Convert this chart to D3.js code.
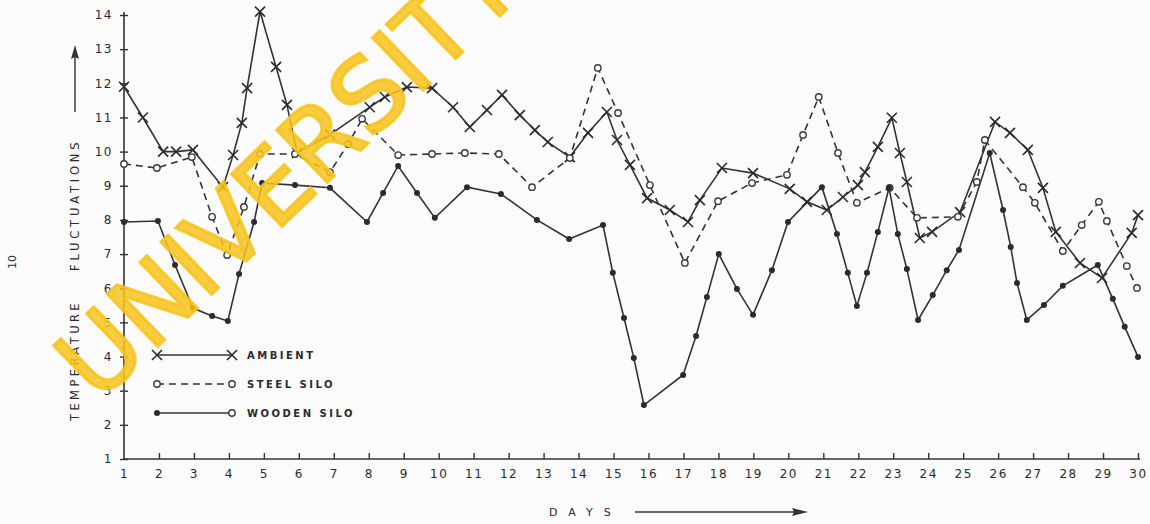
<!DOCTYPE html>
<html>
<head>
<meta charset="utf-8">
<script src="https://cdn.jsdelivr.net/npm/d3@7"></script>
<style>
  body { margin: 0; background: #fbfbfb; }
  svg text { font-family: "DejaVu Sans", sans-serif; fill: #2b2b2b; }
</style>
</head>
<body>
<div id="chart_temperatura"></div>
<script>
// dias (com pontos a cada meio dia mais ou menos) e temperaturas
const ambientDays = [1, 1.54, 2.12, 2.49, 2.97, 3.83, 4.12, 4.37, 4.52, 4.89, 5.35, 5.66, 5.95, 6.89, 8.03, 8.46, 9.09, 9.81, 10.41, 10.89, 11.38, 11.81, 12.32, 12.75, 13.12, 13.75, 14.27, 14.81, 15.1, 15.47, 15.96, 16.61, 17.13, 17.47, 18.1, 18.99, 20.04, 20.53, 21.1, 21.56, 21.99, 22.19, 22.56, 22.96, 23.19, 23.39, 23.76, 24.11, 24.91, 25.91, 26.34, 26.85, 27.28, 27.65, 28.34, 28.97, 29.82, 30];
const ambientTemp = [11.9, 11.0, 10.0, 10.0, 10.05, 8.96, 9.9, 10.84, 11.86, 14.1, 12.48, 11.37, 9.96, 10.5, 11.3, 11.6, 11.89, 11.86, 11.3, 10.72, 11.22, 11.66, 11.07, 10.63, 10.28, 9.84, 10.55, 11.16, 10.34, 9.61, 8.64, 8.29, 7.94, 8.58, 9.52, 9.37, 8.91, 8.53, 8.29, 8.67, 9.02, 9.4, 10.14, 10.99, 9.96, 9.11, 7.47, 7.65, 8.23, 10.87, 10.55, 10.05, 8.94, 7.65, 6.74, 6.3, 7.62, 8.14];

const steelDays = [1, 1.94, 2.94, 3.52, 3.95, 4.43, 4.89, 5.89, 6.89, 7.41, 7.81, 8.84, 9.81, 10.75, 11.72, 12.67, 13.75, 14.55, 15.13, 16.04, 17.04, 17.99, 18.96, 19.96, 20.42, 20.87, 21.42, 21.96, 22.9, 23.68, 24.85, 25.39, 25.62, 26.71, 27.05, 27.85, 28.39, 28.88, 29.11, 29.68, 29.97];
const steelTemp = [9.64, 9.52, 9.84, 8.09, 6.97, 8.38, 9.93, 9.93, 9.4, 10.22, 10.96, 9.9, 9.93, 9.96, 9.93, 8.96, 9.81, 12.45, 11.13, 9.02, 6.74, 8.55, 9.08, 9.32, 10.49, 11.6, 9.96, 8.5, 8.94, 8.06, 8.09, 9.11, 10.34, 8.96, 8.5, 7.09, 7.85, 8.53, 7.97, 6.65, 6.01];

const woodDays = [1, 1.97, 2.46, 2.97, 3.52, 3.97, 4.29, 4.72, 4.95, 5.89, 6.89, 7.95, 8.41, 8.84, 9.38, 9.89, 10.81, 11.78, 12.81, 13.73, 14.7, 14.98, 15.3, 15.58, 15.87, 16.99, 17.36, 17.67, 18.01, 18.53, 18.99, 19.53, 19.99, 20.96, 21.39, 21.7, 21.96, 22.25, 22.56, 22.88, 23.13, 23.39, 23.71, 24.13, 24.53, 24.88, 25.76, 26.14, 26.36, 26.54, 26.82, 27.31, 27.85, 28.85, 29.28, 29.62, 30];
const woodTemp = [7.94, 7.97, 6.68, 5.42, 5.19, 5.04, 6.42, 7.94, 9.08, 9.02, 8.94, 7.94, 8.79, 9.58, 8.79, 8.06, 8.96, 8.76, 8.0, 7.44, 7.85, 6.45, 5.13, 3.96, 2.58, 3.46, 4.6, 5.74, 7.0, 5.98, 5.22, 6.53, 7.94, 8.96, 7.59, 6.45, 5.48, 6.45, 7.65, 8.94, 7.59, 6.56, 5.07, 5.8, 6.53, 7.12, 9.96, 8.29, 7.21, 6.15, 5.07, 5.51, 6.07, 6.68, 5.69, 4.87, 3.99];

const xTicks = d3.range(1, 31);
const yTicks = d3.range(1, 15);

const seriesNames = ["AMBIENT", "STEEL SILO", "WOODEN SILO"];

let config = {
    div: '#chart_temperatura',
    width: 1150,
    height: 524,
    top: 15,
    left: 124,
    bottom: 65,
    right: 12
};

class LineChart {
    constructor() {
        this.config = config;
        this.svg = null;
        this.series = [];
        this.createSvg();
    }

    createSvg() {
        this.svg = d3.select(this.config.div)
            .append("svg")
            .attr("width", this.config.width)
            .attr("height", this.config.height);
    }

    setData() {
        let zip = (days, temps) => days.map((d, i) => ({day: d, temp: temps[i]}));
        this.series = [
            {name: seriesNames[0], marker: "cross", dash: null, values: zip(ambientDays, ambientTemp)},
            {name: seriesNames[1], marker: "ring", dash: "7,5", values: zip(steelDays, steelTemp)},
            {name: seriesNames[2], marker: "dot", dash: null, values: zip(woodDays, woodTemp)}
        ];
    }

    drawMarker(g, type, x, y) {
        if (type === "cross") {
            g.append("path")
                .attr("d", `M${x-5},${y-5}L${x+5},${y+5}M${x+5},${y-5}L${x-5},${y+5}`)
                .attr("stroke", "#2b2b2b").attr("stroke-width", 1.6);
        } else if (type === "ring") {
            g.append("circle").attr("cx", x).attr("cy", y).attr("r", 3.2)
                .attr("fill", "#fbfbfb").attr("stroke", "#3a3a3a").attr("stroke-width", 1.4);
        } else {
            g.append("circle").attr("cx", x).attr("cy", y).attr("r", 3)
                .attr("fill", "#2b2b2b");
        }
    }

    updateChart() {
        let c = this.config;
        let x = d3.scaleLinear().domain([1, 30]).range([c.left, 1138]);
        let y = d3.scaleLinear().domain([1, 14]).range([c.height - c.bottom, c.top]);

        // eixo x
        let xAxis = this.svg.append("g")
            .attr("transform", `translate(0,${y(1)})`)
            .call(d3.axisBottom(x).tickValues(xTicks).tickSize(-6).tickPadding(8).tickFormat(d3.format("d")));
        xAxis.select(".domain").attr("d", `M${c.left},0H1140`).attr("stroke", "#333").attr("stroke-width", 1.6);
        xAxis.selectAll(".tick line").attr("stroke", "#333").attr("stroke-width", 1.4);
        xAxis.selectAll(".tick text").attr("font-size", 12).attr("letter-spacing", 1.5).attr("dy", "0.9em");
        xAxis.selectAll(".tick").filter(d => d === 1).select("line").remove();

        // eixo y
        let yAxis = this.svg.append("g")
            .attr("transform", `translate(${c.left},0)`)
            .call(d3.axisLeft(y).tickValues(yTicks).tickSize(5).tickPadding(6).tickFormat(d3.format("d")));
        yAxis.select(".domain").attr("d", `M0,${y(1)}V${y(14) - 3}`).attr("stroke", "#333").attr("stroke-width", 1.6);
        yAxis.selectAll(".tick line").attr("x2", 4).attr("x1", -4).attr("stroke", "#333").attr("stroke-width", 1.4);
        yAxis.selectAll(".tick text").attr("font-size", 12).attr("letter-spacing", 1.5);

        // linhas
        let line = d3.line().x(d => x(d.day)).y(d => y(d.temp));
        this.series.forEach(s => {
            this.svg.append("path")
                .datum(s.values)
                .attr("fill", "none")
                .attr("stroke", "#333")
                .attr("stroke-width", 1.6)
                .attr("stroke-dasharray", s.dash)
                .attr("d", line);
        });
        this.series.forEach(s => {
            let g = this.svg.append("g");
            s.values.forEach(d => this.drawMarker(g, s.marker, x(d.day), y(d.temp)));
        });

        // legenda
        let legend = this.svg.append("g").attr("transform", "translate(157,355)");
        this.series.forEach((s, i) => {
            let ly = i * 29;
            legend.append("line")
                .attr("x1", 0).attr("x2", 75).attr("y1", ly).attr("y2", ly)
                .attr("stroke", "#333").attr("stroke-width", 1.6)
                .attr("stroke-dasharray", s.dash);
            this.drawMarker(legend, s.marker, 0, ly);
            this.drawMarker(legend, s.marker === "dot" ? "ring" : s.marker, 75, ly);
            legend.append("text")
                .attr("x", 90).attr("y", ly + 4)
                .attr("font-size", 10).attr("font-weight", "bold")
                .attr("letter-spacing", 2.5)
                .text(s.name);
        });

        // titulos dos eixos
        let xl = this.svg.append("g");
        xl.append("text").attr("x", 549).attr("y", 516)
            .attr("font-size", 11).attr("letter-spacing", 11).text("DAYS");
        xl.append("line").attr("x1", 635).attr("x2", 800).attr("y1", 512).attr("y2", 512)
            .attr("stroke", "#333").attr("stroke-width", 1.4);
        xl.append("path").attr("d", "M808,512L792,508L794,512L792,516Z").attr("fill", "#333");

        let yl = this.svg.append("g").attr("transform", "translate(79,0) rotate(-90)");
        yl.append("text").attr("x", -421).attr("y", 0)
            .attr("font-size", 11.5).attr("letter-spacing", 3.4).text("TEMPERATURE");
        yl.append("text").attr("x", -271).attr("y", 0)
            .attr("font-size", 11.5).attr("letter-spacing", 3.8).text("FLUCTUATIONS");
        yl.append("line").attr("x1", -112).attr("x2", -52).attr("y1", -4).attr("y2", -4)
            .attr("stroke", "#333").attr("stroke-width", 1.4);
        yl.append("path").attr("d", "M-45,-4L-59,-8L-57,-4L-59,0Z").attr("fill", "#333");

        this.svg.append("text")
            .attr("transform", "translate(16,262) rotate(-90)")
            .attr("font-size", 11).attr("text-anchor", "middle")
            .text("10");

        // marca d'agua
        this.svg.append("text")
            .attr("transform", "translate(98,404) rotate(-44)")
            .attr("font-size", 100)
            .attr("font-family", "Liberation Sans, sans-serif")
            .style("fill", "#f7c31c")
            .style("stroke", "#f7c31c")
            .attr("stroke-width", 3)
            .attr("fill-opacity", 0.85)
            .attr("stroke-opacity", 0.85)
            .text("UNIVERSITY");
    }
}

let chart = new LineChart();
chart.setData();
chart.updateChart();
</script>
</body>
</html>
